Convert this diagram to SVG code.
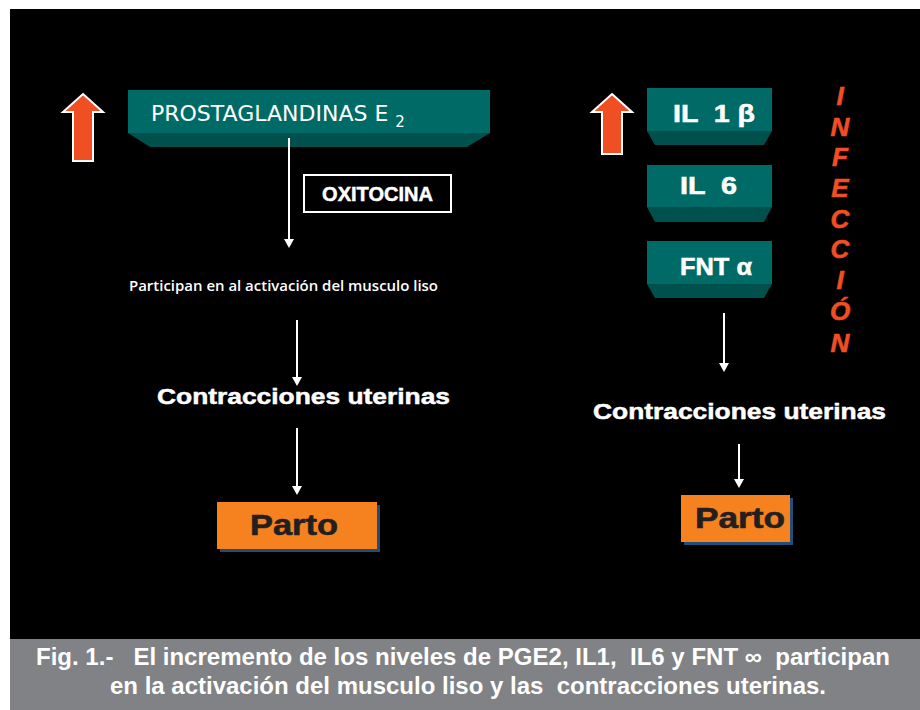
<svg xmlns="http://www.w3.org/2000/svg" width="920" height="710" viewBox="0 0 920 710" xml:space="preserve">
<defs>
<style>
text{white-space:pre}
.front{fill:#006b66}
.bevel{fill:#00514d}
.up{fill:#f04e23;stroke:#ffffff;stroke-width:2}
.lbl{font-family:"Liberation Sans",Arial,sans-serif;font-weight:bold;fill:#ffffff;stroke:#ffffff;stroke-width:0.5}
.conn{stroke:#ffffff;stroke-width:2;fill:none}
.head{fill:#ffffff}
.parto{fill:#f5821f}
.shadow{fill:#1f4e79}
.ptxt{font-family:"Liberation Sans",Arial,sans-serif;font-weight:bold;font-size:29px;fill:#231f20;stroke:#231f20;stroke-width:0.6}
.inf{font-family:"Liberation Sans",Arial,sans-serif;font-weight:bold;font-style:italic;font-size:26px;fill:#f04e23;stroke:#f04e23;stroke-width:0.6;text-anchor:middle}
.cap{font-family:"Liberation Sans",Arial,sans-serif;font-weight:bold;font-size:24px;fill:#ffffff}
</style>
</defs>
<rect x="0" y="0" width="920" height="710" fill="#ffffff"/>
<rect x="10" y="9" width="910" height="630" fill="#000000"/>
<rect x="10" y="639" width="910" height="71" fill="#808285"/>

<g id="arrow-up-left">
<polygon class="up" points="83,94 103,112 93,112 93,161 73,161 73,112 63,112"/>
</g>
<g id="arrow-up-right">
<polygon class="up" points="612,94 632,112 622,112 622,154 602,154 602,112 592,112"/>
</g>

<g id="prostaglandinas">
<rect class="front" x="128" y="90" width="362" height="43"/>
<polygon class="bevel" points="128,133 490,133 467,147 150,147"/>
<text x="151" y="121" font-family="'DejaVu Sans',Verdana,sans-serif" font-size="22px" fill="#ffffff">PROSTAGLANDINAS E <tspan font-size="15px" dy="6">2</tspan></text>
</g>

<g id="oxitocina">
<rect x="304" y="175" width="147" height="37" fill="none" stroke="#ffffff" stroke-width="2"/>
<text class="lbl" x="377.5" y="201" font-size="20px" text-anchor="middle">OXITOCINA</text>
</g>

<g id="participan">
<text x="129" y="291" font-family="'Open Sans','Liberation Sans',sans-serif" font-weight="600" font-size="15px" fill="#ffffff" textLength="309" lengthAdjust="spacingAndGlyphs">Participan en al activación del musculo liso</text>
</g>

<g id="contracciones-left">
<text class="lbl" x="157" y="404" font-size="22px" textLength="293" lengthAdjust="spacingAndGlyphs">Contracciones uterinas</text>
</g>

<g id="parto-left">
<rect class="shadow" x="220" y="505" width="160" height="47"/>
<rect class="parto" x="217" y="502" width="160" height="47"/>
<text class="ptxt" x="250" y="535" textLength="88" lengthAdjust="spacingAndGlyphs">Parto</text>
</g>

<g id="il1b">
<rect class="front" x="647" y="88" width="125" height="43"/>
<polygon class="bevel" points="647,131 772,131 764,145 655,145"/>
<text class="lbl" x="673" y="122" font-size="23px" textLength="82" lengthAdjust="spacingAndGlyphs">IL  1 β</text>
</g>
<g id="il6">
<rect class="front" x="647" y="165" width="125" height="42"/>
<polygon class="bevel" points="647,207 772,207 764,222 655,222"/>
<text class="lbl" x="680" y="194" font-size="23px" textLength="57" lengthAdjust="spacingAndGlyphs">IL  6</text>
</g>
<g id="fnt">
<rect class="front" x="647" y="241" width="125" height="43"/>
<polygon class="bevel" points="647,284 772,284 764,298 655,298"/>
<text class="lbl" x="680" y="275" font-size="23px" textLength="72" lengthAdjust="spacingAndGlyphs">FNT α</text>
</g>

<g id="infeccion">
<text class="inf" x="840" y="105">I</text>
<text class="inf" x="840" y="136">N</text>
<text class="inf" x="840" y="166">F</text>
<text class="inf" x="840" y="197">E</text>
<text class="inf" x="840" y="228">C</text>
<text class="inf" x="840" y="258">C</text>
<text class="inf" x="840" y="289">I</text>
<text class="inf" x="840" y="320">Ó</text>
<text class="inf" x="840" y="352">N</text>
</g>

<g id="contracciones-right">
<text class="lbl" x="593" y="419" font-size="22px" textLength="293" lengthAdjust="spacingAndGlyphs">Contracciones uterinas</text>
</g>

<g id="parto-right">
<rect class="shadow" x="684" y="498" width="109" height="47"/>
<rect class="parto" x="681" y="495" width="109" height="47"/>
<text class="ptxt" x="695" y="528" textLength="90" lengthAdjust="spacingAndGlyphs">Parto</text>
</g>

<g id="connectors">
<line class="conn" x1="289" y1="138" x2="289" y2="240"/>
<polygon class="head" points="284,239 294,239 289,248"/>
<line class="conn" x1="297" y1="320" x2="297" y2="378"/>
<polygon class="head" points="292,377 302,377 297,386"/>
<line class="conn" x1="297" y1="428" x2="297" y2="487"/>
<polygon class="head" points="292,486 302,486 297,495"/>
<line class="conn" x1="724" y1="313" x2="724" y2="364"/>
<polygon class="head" points="719,363 729,363 724,372"/>
<line class="conn" x1="739" y1="444" x2="739" y2="480"/>
<polygon class="head" points="734,479 744,479 739,488"/>
</g>

<g id="caption">
<text class="cap" x="36" y="665" textLength="854" lengthAdjust="spacingAndGlyphs">Fig. 1.-   El incremento de los niveles de PGE2, IL1,  IL6 y FNT ∞  participan</text>
<text class="cap" x="110" y="694" textLength="716" lengthAdjust="spacingAndGlyphs">en la activación del musculo liso y las  contracciones uterinas.</text>
</g>
</svg>
